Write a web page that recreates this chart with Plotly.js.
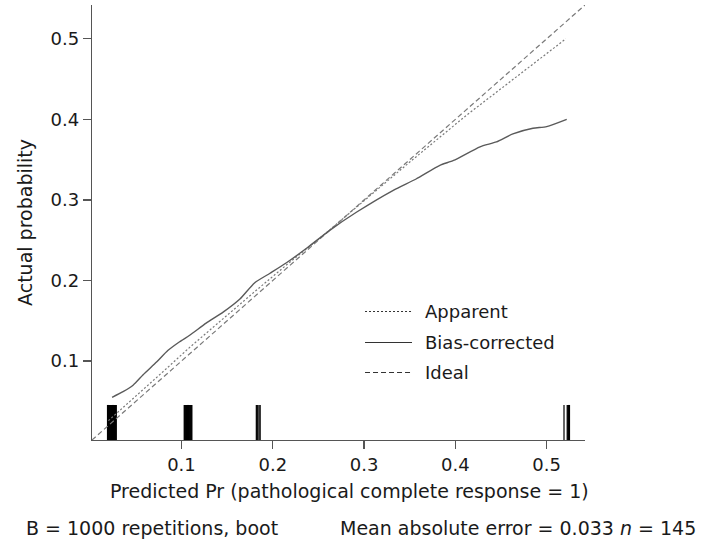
<!DOCTYPE html>
<html>
<head>
<meta charset="utf-8">
<script src="https://cdn.plot.ly/plotly-3.0.1.min.js"></script>
<style>
  html, body { margin: 0; padding: 0; background: #ffffff; }
  #chart { width: 708px; height: 547px; }
</style>
</head>
<body>
<div id="chart"></div>
<script>
// ---- data ----
const idealX = [0.002, 0.542];
const idealY = [0.002, 0.542];

const apparentX = [0.020, 0.050, 0.080, 0.109, 0.150, 0.180, 0.220, 0.250, 0.300, 0.350, 0.412, 0.470, 0.521];
const apparentY = [0.026, 0.056, 0.087, 0.117, 0.157, 0.186, 0.224, 0.251, 0.299, 0.347, 0.405, 0.456, 0.500];

const biasX = [0.024, 0.036, 0.047, 0.058, 0.073, 0.085, 0.098, 0.109, 0.127, 0.146, 0.164, 0.180, 0.197, 0.215, 0.237, 0.262, 0.292, 0.332, 0.357, 0.383, 0.398, 0.427, 0.445, 0.463, 0.485, 0.500, 0.522];
const biasY = [0.055, 0.062, 0.070, 0.083, 0.099, 0.113, 0.124, 0.132, 0.147, 0.161, 0.177, 0.197, 0.209, 0.222, 0.240, 0.262, 0.285, 0.312, 0.326, 0.343, 0.349, 0.366, 0.372, 0.382, 0.389, 0.391, 0.400];

// rug of predicted values
const rugX = [
  0.0190, 0.0195, 0.0200, 0.0205, 0.0210, 0.0215, 0.0220, 0.0225, 0.0230, 0.0235,
  0.0240, 0.0245, 0.0250, 0.0255, 0.0260, 0.0265, 0.0270, 0.0275, 0.0280, 0.0286,
  0.1030, 0.1036, 0.1042, 0.1048, 0.1054, 0.1060, 0.1066, 0.1072, 0.1078, 0.1084,
  0.1090, 0.1096, 0.1102, 0.1108, 0.1114,
  0.1820, 0.1828, 0.1836, 0.1850, 0.1862,
  0.5190, 0.5225, 0.5232, 0.5240, 0.5250
];

const xTicks = [0.1, 0.2, 0.3, 0.4, 0.5];
const xTickLabels = ['0.1', '0.2', '0.3', '0.4', '0.5'];
const yTicks = [0.1, 0.2, 0.3, 0.4, 0.5];
const yTickLabels = ['0.1', '0.2', '0.3', '0.4', '0.5'];

const legendLabels = ['Apparent', 'Bias-corrected', 'Ideal'];
const xTitle = 'Predicted Pr (pathological complete response = 1)';
const yTitle = 'Actual probability';
const noteLeft = 'B = 1000 repetitions, boot';
const noteRight = 'Mean absolute error = 0.033 <i>n</i> = 145';

// ---- styling ----
const axisRange = [0.002, 0.542];
const rugTop = 0.0455;
const FONT = 'DejaVu Sans, Verdana, sans-serif';
const TXT = '#1a1a1a';
const AX = '#555555';
const FS = 18;
const FT = 19;

const rx = [], ry = [];
rugX.forEach(v => { rx.push(v, v, null); ry.push(axisRange[0], rugTop, null); });

const traces = [
  { x: rx, y: ry, mode: 'lines', line: { color: '#000000', width: 1.2 }, hoverinfo: 'skip', showlegend: false },
  { x: idealX, y: idealY, mode: 'lines', name: legendLabels[2], line: { color: '#7a7a7a', width: 1.2, dash: '5px,3px' }, showlegend: false },
  { x: apparentX, y: apparentY, mode: 'lines', name: legendLabels[0], line: { color: '#7a7a7a', width: 1.2, dash: '2px,2px' }, showlegend: false },
  { x: biasX, y: biasY, mode: 'lines', name: legendLabels[1], line: { color: '#5a5a5a', width: 1.4, shape: 'spline', smoothing: 0.6 }, showlegend: false }
];

// legend drawn in paper coordinates
const legY = [0.2954, 0.2241, 0.1552];
const legDash = ['2px,2px', 'solid', '5px,3px'];
const shapes = legY.map((yy, i) => ({
  type: 'line', xref: 'paper', yref: 'paper', x0: 0.5538, x1: 0.6491, y0: yy, y1: yy,
  line: { color: '#333333', width: 1.1, dash: legDash[i] }
}));
const annotations = legY.map((yy, i) => ({
  xref: 'paper', yref: 'paper', x: 0.6714, y: yy, xanchor: 'left', yanchor: 'middle',
  text: legendLabels[i], showarrow: false, font: { family: FONT, size: FS, color: TXT }
}));
annotations.push(
  { xref: 'paper', yref: 'paper', x: 0.5213, y: -0.118, xanchor: 'center', yanchor: 'middle',
    text: xTitle, showarrow: false, font: { family: FONT, size: FT, color: TXT } },
  { xref: 'paper', yref: 'paper', x: -0.1379, y: -0.2023, xanchor: 'left', yanchor: 'middle',
    text: noteLeft, showarrow: false, font: { family: FONT, size: FT, color: TXT } },
  { xref: 'paper', yref: 'paper', x: 1.2292, y: -0.2023, xanchor: 'right', yanchor: 'middle',
    text: noteRight, showarrow: false, font: { family: FONT, size: FT, color: TXT } }
);

const layout = {
  width: 708, height: 547,
  margin: { l: 92, r: 123, t: 5, b: 107 },
  paper_bgcolor: '#ffffff', plot_bgcolor: '#ffffff',
  font: { family: FONT, size: FS, color: TXT },
  showlegend: false,
  xaxis: {
    range: axisRange, tickvals: xTicks, ticktext: xTickLabels,
    showline: true, linecolor: AX, linewidth: 1.3, mirror: false,
    ticks: 'outside', ticklen: 8, tickcolor: AX, tickwidth: 1.3,
    showgrid: false, zeroline: false, automargin: false,
    tickfont: { family: FONT, size: FS, color: TXT }
  },
  yaxis: {
    range: axisRange, tickvals: yTicks, ticktext: yTickLabels,
    showline: true, linecolor: AX, linewidth: 1.3, mirror: false,
    ticks: 'outside', ticklen: 8, tickcolor: AX, tickwidth: 1.3,
    showgrid: false, zeroline: false, automargin: false,
    tickfont: { family: FONT, size: FS, color: TXT },
    title: { text: yTitle, standoff: 12, font: { family: FONT, size: FT, color: TXT } }
  },
  shapes: shapes,
  annotations: annotations
};

Plotly.newPlot('chart', traces, layout, { staticPlot: true, displayModeBar: false });
</script>
</body>
</html>
